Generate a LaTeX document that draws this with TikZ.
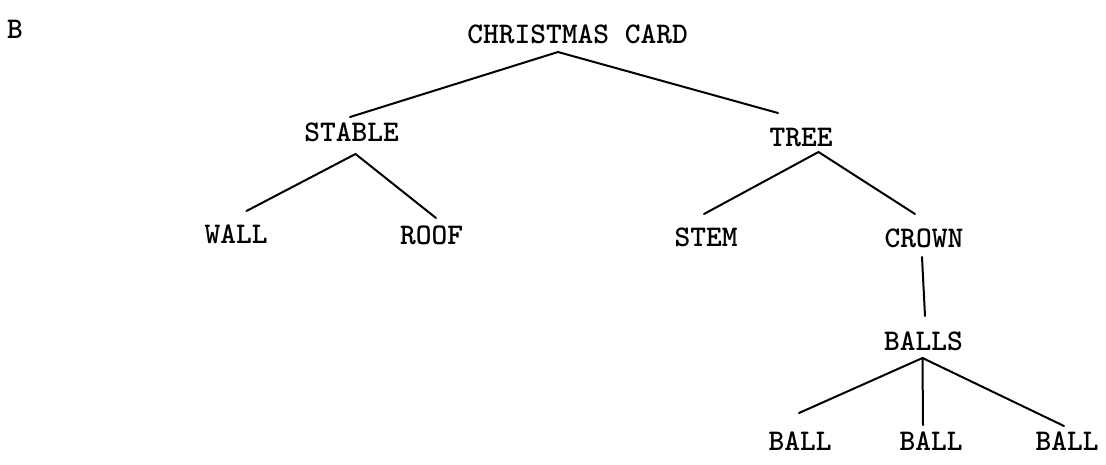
\documentclass[tikz,border=0pt]{standalone}
\begin{document}
\begin{tikzpicture}[x=1pt,y=-1pt,
  label/.style={inner sep=0pt,anchor=base,font=\fontsize{30}{36}\selectfont\ttfamily\bfseries},
  branch/.style={line width=2pt,line cap=round}]
\useasboundingbox (0,0) rectangle (1106,464);
\fill[white] (0,0) rectangle (1106,464);

% panel letter
\node[label] (panel) at (15,38) {B};

% tree labels
\node[label] (card)   at (577.5,43) {CHRISTMAS CARD};
\node[label] (stable) at (351.5,141) {STABLE};
\node[label] (tree)   at (801,146) {TREE};
\node[label] (wall)   at (236,243) {WALL};
\node[label] (roof)   at (431.5,244) {ROOF};
\node[label] (stem)   at (706,246) {STEM};
\node[label] (crown)  at (924,247) {CROWN};
\node[label] (balls)  at (923.5,350) {BALLS};
\node[label] (ballA)  at (800,450) {BALL};
\node[label] (ballB)  at (931,450) {BALL};
\node[label] (ballC)  at (1067,450) {BALL};

% branches
\draw[branch] ([shift={(-1.5,-24)}]stable.base) -- ([shift={(-19.5,9)}]card.base) -- ([shift={(-23,-33)}]tree.base);
\draw[branch] ([shift={(10.5,-32)}]wall.base) -- ([shift={(4,13)}]stable.base) -- ([shift={(4.5,-26)}]roof.base);
\draw[branch] ([shift={(-2,-32)}]stem.base) -- ([shift={(17.5,6)}]tree.base) -- ([shift={(-9,-33)}]crown.base);
\draw[branch] ([shift={(-2,10)}]crown.base) -- ([shift={(1.5,-34)}]balls.base);
\draw[branch] ([shift={(-1,-37)}]ballA.base) -- ([shift={(-1,8)}]balls.base) -- ([shift={(-3,-24)}]ballC.base);
\draw[branch] ([shift={(-1,8)}]balls.base) -- ([shift={(-8,-25)}]ballB.base);
\end{tikzpicture}
\end{document}
